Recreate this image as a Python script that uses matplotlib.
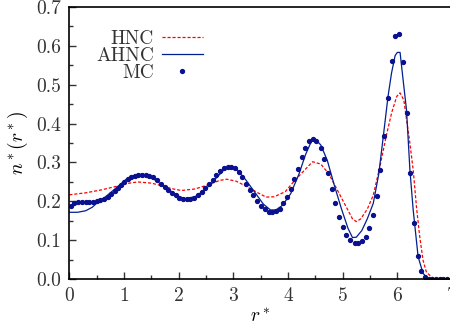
import matplotlib
matplotlib.use("Agg")
import matplotlib.pyplot as plt
from matplotlib.ticker import MultipleLocator, FormatStrFormatter

plt.rcParams['font.family'] = ['cmr10', 'DejaVu Serif']
plt.rcParams['mathtext.fontset'] = 'cm'
plt.rcParams['axes.formatter.use_mathtext'] = True
plt.rcParams['font.size'] = 14

# MC data (r*, n*)
mc_r = [0.031, 0.092, 0.165, 0.238, 0.300, 0.366, 0.433, 0.500, 0.567, 0.640,
        0.700, 0.770, 0.830, 0.885, 0.940, 1.000, 1.068, 1.128, 1.196, 1.260,
        1.330, 1.397, 1.460, 1.536, 1.610, 1.676, 1.744, 1.810, 1.877, 1.945,
        2.010, 2.080, 2.146, 2.210, 2.280, 2.347, 2.420, 2.486, 2.554, 2.620,
        2.687, 2.755, 2.822, 2.896, 2.960, 3.030, 3.097, 3.163, 3.230, 3.298,
        3.364, 3.437, 3.505, 3.572, 3.645, 3.711, 3.779, 3.846, 3.912, 3.980,
        4.047, 4.113, 4.180, 4.248, 4.315, 4.388, 4.460, 4.520, 4.596, 4.663,
        4.730, 4.797, 4.863, 4.936, 5.000, 5.070, 5.140, 5.218, 5.280, 5.350,
        5.420, 5.485, 5.550, 5.620, 5.686, 5.753, 5.832, 5.894, 5.960, 6.027,
        6.100, 6.168, 6.230, 6.300, 6.370, 6.440, 6.510, 6.580, 6.640, 6.710,
        6.780, 6.840, 6.910]
mc_n = [0.189, 0.195, 0.198, 0.199, 0.199, 0.199, 0.199, 0.200, 0.204, 0.207,
        0.211, 0.218, 0.226, 0.234, 0.242, 0.250, 0.258, 0.263, 0.266, 0.268,
        0.269, 0.268, 0.266, 0.263, 0.255, 0.246, 0.238, 0.230, 0.222, 0.216,
        0.210, 0.207, 0.205, 0.205, 0.210, 0.216, 0.223, 0.234, 0.244, 0.255,
        0.267, 0.278, 0.285, 0.289, 0.289, 0.285, 0.275, 0.262, 0.246, 0.230,
        0.216, 0.201, 0.189, 0.180, 0.174, 0.172, 0.175, 0.181, 0.195, 0.212,
        0.233, 0.258, 0.284, 0.313, 0.338, 0.355, 0.360, 0.355, 0.336, 0.308,
        0.272, 0.232, 0.195, 0.161, 0.133, 0.114, 0.101, 0.092, 0.092, 0.097,
        0.109, 0.132, 0.165, 0.214, 0.281, 0.368, 0.467, 0.562, 0.626, 0.631,
        0.559, 0.427, 0.274, 0.145, 0.060, 0.021, 0.006, 0.001, 0.001, 0.001,
        0.001, 0.001, 0.001]

# HNC curve
hnc_r = [0.0, 0.3, 0.6, 0.9, 1.1, 1.25, 1.5, 1.7, 1.9, 2.05, 2.3, 2.55, 2.75,
         2.88, 3.05, 3.25, 3.45, 3.6, 3.75, 3.95, 4.1, 4.3, 4.45, 4.6, 4.75,
         4.9, 5.05, 5.18, 5.25, 5.33, 5.45, 5.56, 5.68, 5.8, 5.9, 5.99, 6.05,
         6.12, 6.17, 6.22, 6.29, 6.35, 6.41, 6.47, 6.53, 6.62, 6.7, 7.0]
hnc_n = [0.217, 0.222, 0.230, 0.240, 0.247, 0.250, 0.247, 0.240, 0.232, 0.228,
         0.232, 0.243, 0.254, 0.257, 0.252, 0.238, 0.222, 0.211, 0.212, 0.225,
         0.250, 0.280, 0.302, 0.296, 0.270, 0.230, 0.190, 0.155, 0.148, 0.155,
         0.180, 0.216, 0.289, 0.370, 0.430, 0.470, 0.479, 0.460, 0.409, 0.360,
         0.281, 0.186, 0.109, 0.049, 0.019, 0.006, 0.0, 0.0]

# AHNC curve
ahnc_r = [0.0, 0.15, 0.3, 0.42, 0.5, 0.6, 0.75, 0.9, 1.05, 1.2, 1.28, 1.45,
          1.6, 1.8, 1.98, 2.12, 2.3, 2.5, 2.7, 2.85, 2.93, 3.08, 3.23, 3.4,
          3.55, 3.68, 3.78, 3.9, 4.05, 4.2, 4.32, 4.43, 4.5, 4.6, 4.72, 4.85,
          4.98, 5.1, 5.18, 5.25, 5.35, 5.45, 5.56, 5.66, 5.75, 5.83, 5.894,
          5.96, 6.0, 6.05, 6.106, 6.168, 6.23, 6.29, 6.38, 6.47, 6.56, 6.65, 7.0]
ahnc_n = [0.172, 0.172, 0.176, 0.185, 0.195, 0.205, 0.222, 0.240, 0.258, 0.268,
          0.270, 0.266, 0.252, 0.232, 0.214, 0.207, 0.212, 0.232, 0.262, 0.284,
          0.289, 0.280, 0.255, 0.222, 0.193, 0.178, 0.178, 0.190, 0.220, 0.270,
          0.320, 0.355, 0.360, 0.345, 0.305, 0.240, 0.180, 0.130, 0.107, 0.108,
          0.125, 0.155, 0.195, 0.270, 0.375, 0.470, 0.530, 0.575, 0.583, 0.583,
          0.512, 0.435, 0.281, 0.178, 0.058, 0.015, 0.002, 0.0, 0.0]

fig = plt.figure(figsize=(4.5, 3.32), dpi=100)
ax = fig.add_axes([69.3 / 450, 1 - 279.2 / 332, (452 - 69.3) / 450, (279.2 - 6.9) / 332])

ax.plot(hnc_r, hnc_n, color='#ff0000', lw=0.9, ls=(0, (2.5, 1.5)), label='HNC')
ax.plot(ahnc_r, ahnc_n, color='#00208f', lw=0.9, label='AHNC')
ax.plot(mc_r, mc_n, ls='none', marker='o', ms=2.8, color='#0a108f', label='MC')

ax.set_xlim(0, 7)
ax.set_ylim(0, 0.7)
ax.xaxis.set_major_locator(MultipleLocator(1))
ax.xaxis.set_minor_locator(MultipleLocator(0.5))
ax.yaxis.set_major_locator(MultipleLocator(0.1))
ax.yaxis.set_minor_locator(MultipleLocator(0.05))
ax.yaxis.set_major_formatter(FormatStrFormatter('%.1f'))
ax.xaxis.set_major_formatter(FormatStrFormatter('%d'))
ax.tick_params(which='both', direction='in', top=False, right=False, colors='#333333',
               labelcolor='#333333', width=1.0)
ax.tick_params(which='major', length=5, pad=6)
ax.tick_params(which='minor', length=3)
for s in ax.spines.values():
    s.set_linewidth(1.2)
    s.set_color('black')

ax.set_xlabel(r'$r^*$', labelpad=2)
ax.set_ylabel(r'$n^*(r^*)$', labelpad=4)

leg = ax.legend(loc='upper left', bbox_to_anchor=(0.07, 0.915), frameon=False,
                markerfirst=False, handlelength=2.1, handletextpad=0.4,
                labelspacing=-0.05, borderaxespad=0, borderpad=0)
for t in leg.get_texts():
    t.set_color('#333333')

fig.savefig('out.png', dpi=100)
